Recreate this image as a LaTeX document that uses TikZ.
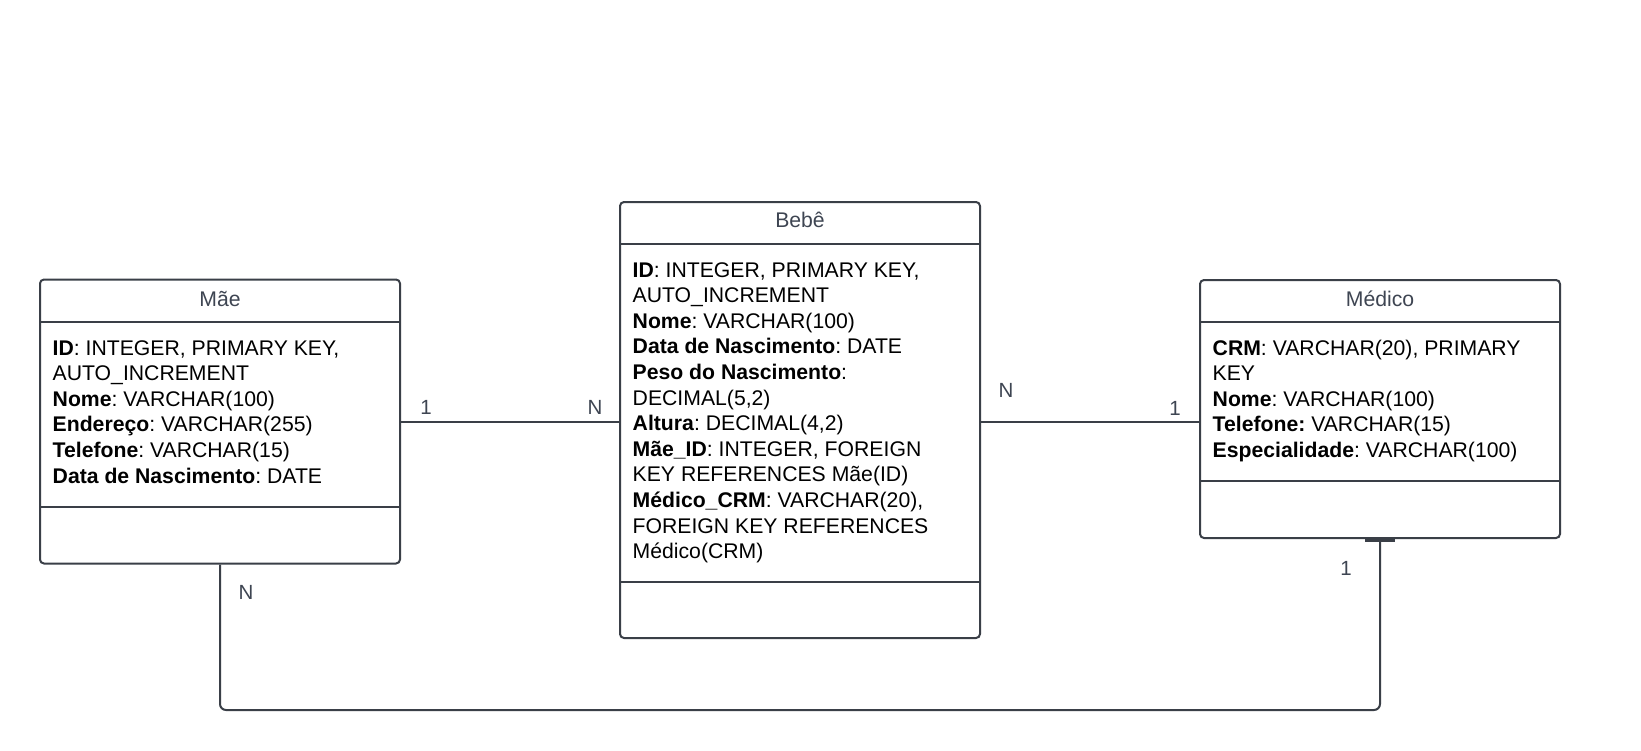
\documentclass[tikz,border=0pt]{standalone}
\usepackage{fontspec}
\setmainfont{Liberation Sans}
\frenchspacing
\definecolor{edge}{HTML}{3A3F47}
\definecolor{titlec}{HTML}{3E4552}
\begin{document}
\begin{tikzpicture}[x=1pt,y=-1pt,
  tbl/.style={draw=edge,line width=2pt,rounded corners=4pt,minimum width=360pt,inner sep=0pt,fill=none},
  sep/.style={draw=edge,line width=2pt},
  conn/.style={draw=edge,line width=2pt},
  ttl/.style={font=\fontsize{21.2}{25}\selectfont,text=titlec,anchor=base,inner sep=0pt},
  attrs/.style={font=\fontsize{21.2}{25.6}\selectfont,align=left,anchor=north west,inner sep=0pt,text=black},
  card/.style={font=\fontsize{20.5}{24}\selectfont,text=titlec,anchor=base,inner sep=0pt}]
\useasboundingbox (0,0) rectangle (1641,750);
\fill[white] (0,0) rectangle (1641,750);
% tables
\node[tbl,minimum height=284pt] (mae) at (220,421.5) {};
\node[tbl,minimum height=436pt] (bebe) at (800,420) {};
\node[tbl,minimum height=258pt] (medico) at (1380,409) {};
% separators
\draw[sep] (mae.west |- 0,322) -- (mae.east |- 0,322);
\draw[sep] (mae.west |- 0,507) -- (mae.east |- 0,507);
\draw[sep] (bebe.west |- 0,244) -- (bebe.east |- 0,244);
\draw[sep] (bebe.west |- 0,582) -- (bebe.east |- 0,582);
\draw[sep] (medico.west |- 0,322) -- (medico.east |- 0,322);
\draw[sep] (medico.west |- 0,481) -- (medico.east |- 0,481);
% titles
\node[ttl] (maet) at (220,306) {Mãe};
\node[ttl] (bebet) at (800,227) {Bebê};
\node[ttl] (medicot) at (1380,306) {Médico};
% attributes
\node[attrs] (maea) at (52.5,340) {\textbf{ID}: INTEGER, PRIMARY KEY,\\AUTO\_INCREMENT\\\textbf{Nome}: VARCHAR(100)\\\textbf{Endereço}: VARCHAR(255)\\\textbf{Telefone}: VARCHAR(15)\\\textbf{Data de Nascimento}: DATE};
\node[attrs] (bebea) at (632.5,262) {\textbf{ID}: INTEGER, PRIMARY KEY,\\AUTO\_INCREMENT\\\textbf{Nome}: VARCHAR(100)\\\textbf{Data de Nascimento}: DATE\\\textbf{Peso do Nascimento}:\\DECIMAL(5,2)\\\textbf{Altura}: DECIMAL(4,2)\\\textbf{Mãe\_ID}: INTEGER, FOREIGN\\KEY REFERENCES Mãe(ID)\\\textbf{Médico\_CRM}: VARCHAR(20),\\FOREIGN KEY REFERENCES\\Médico(CRM)};
\node[attrs] (medicoa) at (1212.5,339.5) {\textbf{CRM}: VARCHAR(20), PRIMARY\\KEY\\\textbf{Nome}: VARCHAR(100)\\\textbf{Telefone:} VARCHAR(15)\\\textbf{Especialidade}: VARCHAR(100)};
% connectors
\draw[conn] (mae.east) -- (mae.east -| bebe.west);
\draw[conn] (bebe.east |- mae.east) -- (medico.west |- mae.east);
\coordinate (bl) at (mae.south |- 0,710);
\draw[conn,rounded corners=6pt] (mae.south) -- (bl) -- (bl -| medico.south) -- (medico.south);
\draw[draw=edge,line width=4pt] ([xshift=-15pt,yshift=-1pt]medico.south) -- ([xshift=15pt,yshift=-1pt]medico.south);
% cardinalities
\node[card] (c1) at (426,414) {1};
\node[card] (c2) at (595,414) {N};
\node[card] (c3) at (1006,397) {N};
\node[card] (c4) at (1175,415) {1};
\node[card] (c5) at (246,599) {N};
\node[card] (c6) at (1346,575) {1};
\end{tikzpicture}
\end{document}
